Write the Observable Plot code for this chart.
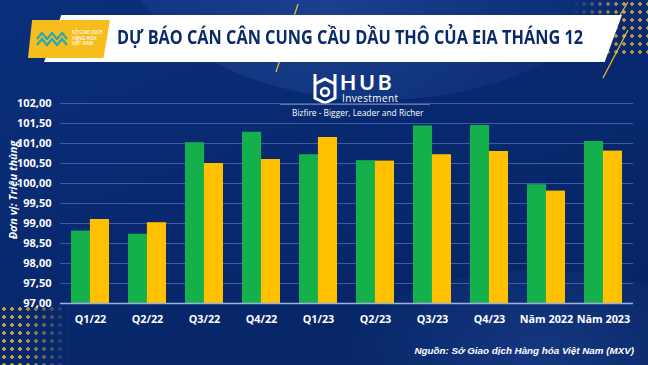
<!DOCTYPE html>
<html>
<head>
<meta charset="utf-8">
<script src="https://cdn.jsdelivr.net/npm/d3@7"></script>
<script src="https://cdn.jsdelivr.net/npm/@observablehq/plot@0.6"></script>
<style>
  html, body { margin: 0; padding: 0; }
  body { width: 648px; height: 365px; overflow: hidden; font-family: "Open Sans", "Noto Sans", sans-serif; }
  #wrap { position: relative; width: 648px; height: 365px; overflow: hidden;
    background: linear-gradient(160deg, #0b2f7c 0%, #08296f 45%, #062463 100%); }
  .wave1 { position: absolute; left: 120px; top: -230px; width: 520px; height: 330px; border-radius: 50%;
    background: radial-gradient(ellipse at 40% 70%, rgba(60,100,190,0.35), rgba(20,50,130,0) 70%); }
  .wave2 { position: absolute; left: 330px; top: 270px; width: 420px; height: 220px; border-radius: 50%;
    background: radial-gradient(ellipse at 50% 40%, rgba(50,90,180,0.35), rgba(20,50,130,0) 70%); }
  .dots-bl { position: absolute; left: 0; top: 305px; width: 70px; height: 60px;
    background-image: radial-gradient(circle, #e2b23a 1.6px, transparent 2px);
    background-size: 8px 8px; opacity: 0.85;
    -webkit-mask-image: linear-gradient(to right, #000 30%, transparent 100%); }
  .dots-tr { position: absolute; left: 572px; top: 0; width: 76px; height: 55px;
    background-image: radial-gradient(circle, #e2b23a 1.5px, transparent 2px);
    background-size: 8px 8px; opacity: 0.85;
    -webkit-mask-image: linear-gradient(to left, #000 35%, transparent 100%); }
  .banner { position: absolute; left: 44px; top: 15px; width: 578px; height: 47px; background: #fff;
    clip-path: polygon(3% 0, 100% 0, 97% 100%, 0 100%); }
  .logo { position: absolute; left: 28px; top: 20px; width: 82px; height: 38px; background: #f6bd1d;
    clip-path: polygon(5% 0, 100% 0, 92% 100%, 0 100%); }
  .logo .txt { position: absolute; left: 44px; top: 10px; font-size: 4.5px; line-height: 5.5px; color: #fff; font-weight: 600; }
  .title { position: absolute; left: 117px; top: 23px; font-size: 20px; font-weight: 700; color: #0b2a6b;
    white-space: nowrap; font-family: "Open Sans", sans-serif; transform-origin: 0 50%; }
  .hub { position: absolute; left: 312px; top: 70px; color: #fff; }
  .hub .name { position: absolute; left: 28px; top: 1px; font-size: 21px; line-height: 21px; font-weight: 700; letter-spacing: 3px; font-family: "Lato", "Open Sans", sans-serif; }
  .hub .inv { position: absolute; left: 30px; top: 23px; font-size: 10px; line-height: 10px; font-family: "Open Sans", sans-serif; letter-spacing: 0.4px; }
  .hubline { position: absolute; left: 280px; top: 104px; width: 150px; height: 1px; background: rgba(255,255,255,0.35); }
  .tag { position: absolute; left: 292px; top: 107px; font-size: 8.4px; color: #fff; white-space: nowrap; }
  .ytitle { position: absolute; left: 12px; top: 190px; transform: translate(-50%, -50%) rotate(-90deg);
    font-size: 11px; font-weight: 700; font-style: italic; color: #fff; white-space: nowrap; }
  .source { position: absolute; right: 14px; top: 345px; font-size: 9.8px; font-weight: 700; font-style: italic;
    color: #fff; white-space: nowrap; font-family: "Liberation Sans", Arial, sans-serif; }
  #chart { position: absolute; left: 0; top: 0; }
  #chart svg { background: transparent !important; }
</style>
</head>
<body>
<div id="wrap">
  <div class="wave1"></div>
  <div class="wave2"></div>
  <div class="dots-bl"></div>
  <div class="dots-tr"></div>
  <svg style="position:absolute;left:0;top:0" width="648" height="80">
    <line x1="298" y1="4" x2="276" y2="72" stroke="#f0c030" stroke-width="1.2"/>
    <line x1="628" y1="2" x2="600" y2="48" stroke="#f0c030" stroke-width="1.2"/>
    <line x1="628" y1="30" x2="603" y2="78" stroke="#f0c030" stroke-width="1.2"/>
  </svg>
  <div class="banner"></div>
  <div class="logo">
    <svg style="position:absolute;left:8px;top:11px" width="34" height="16">
      <path d="M1 8 L6 2 L11 8 L16 2 L21 8 L26 2 L31 8 M1 14 L6 8 L11 14 L16 8 L21 14 L26 8 L31 14" stroke="#2aa7b5" stroke-width="2.2" fill="none"/>
    </svg>
    <div class="txt">SỞ GIAO DỊCH<br>HÀNG HÓA<br>VIỆT NAM</div>
  </div>
  <div class="title" id="title">DỰ BÁO CÁN CÂN CUNG CẦU DẦU THÔ CỦA EIA THÁNG 12</div>
  <div class="hub">
    <svg width="26" height="32" style="position:absolute;left:0;top:2px">
      <path d="M3 2 L3 26 L13 31 L23 26 L23 2 M3 12 L13 7 L23 12" stroke="#fff" stroke-width="3" fill="none"/>
      <circle cx="13" cy="20" r="4" stroke="#fff" stroke-width="2.5" fill="none"/>
    </svg>
    <div class="name">HUB</div>
    <div class="inv">Investment</div>
  </div>
  <div class="hubline"></div>
  <div class="tag">Bizfire - Bigger, Leader and Richer</div>
  <div class="ytitle">Đơn vị: Triệu thùng</div>
  <div class="source">Nguồn: Sở Giao dịch Hàng hóa Việt Nam (MXV)</div>
  <div id="chart"></div>
</div>
<script>
const categories = ["Q1/22", "Q2/22", "Q3/22", "Q4/22", "Q1/23", "Q2/23", "Q3/23", "Q4/23", "Năm 2022", "Năm 2023"];
const supply = [98.81, 98.73, 101.02, 101.28, 100.72, 100.57, 101.44, 101.45, 99.97, 101.05];
const demand = [99.10, 99.02, 100.50, 100.60, 101.15, 100.56, 100.72, 100.80, 99.81, 100.81];
const yTicks = [97, 97.5, 98, 98.5, 99, 99.5, 100, 100.5, 101, 101.5, 102];

// fit title width to the reference (≈466px)
const t = document.getElementById("title");
const tw = t.getBoundingClientRect().width;
t.style.transform = `scaleX(${466 / tw})`;

const base = 97;
const supplyData = categories.map((c, i) => ({cat: c, value: supply[i]}));
const demandData = categories.map((c, i) => ({cat: c, value: demand[i]}));
const fmt = v => d3.format(".2f")(v).replace(".", ",");

const half = 573 / 10 * (1 - 0.34) / 2;

const chart = Plot.plot({
  width: 648,
  height: 365,
  marginTop: 103,
  marginBottom: 62,
  marginLeft: 60,
  marginRight: 15,
  style: {background: "transparent", color: "#fff", fontFamily: "Open Sans, sans-serif"},
  x: {type: "band", domain: categories, paddingInner: 0.34, paddingOuter: 0.17, label: null},
  y: {domain: [97, 102], label: null},
  marks: [
    Plot.ruleY(yTicks, {stroke: "#5a78b8", strokeOpacity: 0.75, strokeWidth: 0.9}),
    Plot.barY(supplyData, {x: "cat", y1: base, y2: "value", fill: "#14b04b", insetRight: half}),
    Plot.barY(demandData, {x: "cat", y1: base, y2: "value", fill: "#ffc000", insetLeft: half}),
    Plot.ruleY([base], {stroke: "#9fb3da", strokeWidth: 1.3}),
    Plot.axisY({ticks: yTicks, tickFormat: fmt, tickSize: 0, tickPadding: 9, label: null,
      fontSize: 11, fontWeight: 700, fill: "#fff"}),
    Plot.axisX({tickSize: 0, tickPadding: 12, label: null, fontSize: 10.8, fontWeight: 700, fill: "#fff",
      style: {letterSpacing: "-0.2px"}})
  ]
});
document.getElementById("chart").appendChild(chart);
</script>
</body>
</html>
